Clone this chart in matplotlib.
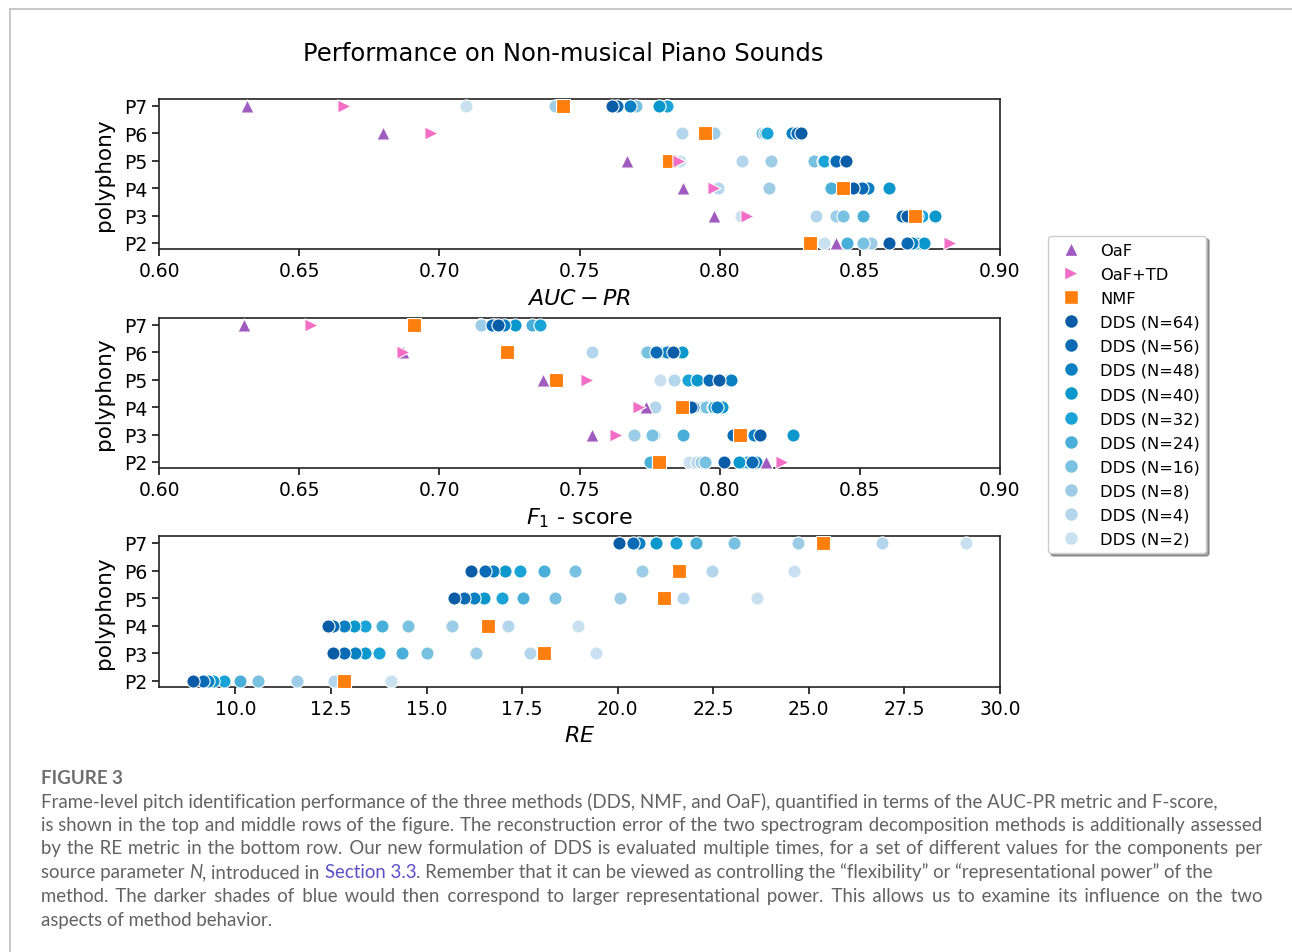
import matplotlib
matplotlib.use("Agg")
import matplotlib.pyplot as plt
from matplotlib.lines import Line2D

# ---- data -------------------------------------------------------------
polyphony = ["P2", "P3", "P4", "P5", "P6", "P7"]
dds_n = [64, 56, 48, 40, 32, 24, 16, 8, 4, 2]

dds_colors = ["#0a5ca6", "#0a6ab4", "#0a80c2", "#0a97cc", "#1aa3d6",
              "#4aafd8", "#78c1e0", "#9dcde6", "#b4d6ec", "#c8e0f0"]

# AUC-PR  (rows P2..P7)
auc_oaf = [0.8414, 0.7980, 0.7868, 0.7670, 0.6800, 0.6315]
auc_oaftd = [0.8822, 0.8096, 0.7980, 0.7856, 0.6970, 0.6661]
auc_nmf = [0.8321, 0.8697, 0.8439, 0.7820, 0.7949, 0.7442]
# each row: N=64 ... N=2
auc_dds = [
    [0.8605, 0.8667, 0.8685, 0.8730, 0.8700, 0.8456, 0.8510, 0.8540, 0.8510, 0.8372],
    [0.8669, 0.8652, 0.8705, 0.8768, 0.8720, 0.8510, 0.8440, 0.8414, 0.8344, 0.8076],
    [0.8474, 0.8508, 0.8528, 0.8605, 0.8524, 0.8396, 0.8392, 0.8175, 0.7995, 0.7990],
    [0.8450, 0.8415, 0.8448, 0.8413, 0.8372, 0.8370, 0.8335, 0.8184, 0.8080, 0.7860],
    [0.8290, 0.8275, 0.8257, 0.8262, 0.8168, 0.8160, 0.8150, 0.7980, 0.7866, 0.7866],
    [0.7615, 0.7633, 0.7680, 0.7785, 0.7813, 0.7812, 0.7700, 0.7413, 0.7420, 0.7095],
]

# F1-score
f1_oaf = [0.8165, 0.7545, 0.7738, 0.7371, 0.6872, 0.6304]
f1_oaftd = [0.8222, 0.7629, 0.7712, 0.7528, 0.6871, 0.6542]
f1_nmf = [0.7783, 0.8074, 0.7865, 0.7416, 0.7242, 0.6908]
f1_dds = [
    [0.8015, 0.8114, 0.8130, 0.8070, 0.8096, 0.7751, 0.7948, 0.7935, 0.7918, 0.7890],
    [0.8144, 0.8049, 0.8124, 0.8260, 0.8120, 0.7868, 0.7760, 0.7695, 0.7765, 0.7763],
    [0.7898, 0.7905, 0.7990, 0.8007, 0.7980, 0.7975, 0.7950, 0.7940, 0.7769, 0.7765],
    [0.7998, 0.7963, 0.8042, 0.7918, 0.7888, 0.7900, 0.8000, 0.8025, 0.7837, 0.7788],
    [0.7835, 0.7772, 0.7811, 0.7865, 0.7800, 0.7790, 0.7740, 0.7736, 0.7546, 0.7546],
    [0.7208, 0.7187, 0.7232, 0.7269, 0.7359, 0.7329, 0.7195, 0.7150, 0.7146, 0.7146],
]

# Reconstruction error (only NMF and DDS)
re_nmf = [12.83, 18.08, 16.61, 21.22, 21.60, 25.38]
re_dds = [
    [8.88, 9.14, 9.29, 9.42, 9.69, 10.11, 10.58, 11.62, 12.58, 14.08],
    [12.56, 12.85, 13.13, 13.39, 13.75, 14.36, 15.00, 16.30, 17.70, 19.44],
    [12.42, 12.55, 12.83, 13.11, 13.40, 13.83, 14.51, 15.67, 17.13, 18.96],
    [15.73, 15.99, 16.23, 16.50, 16.98, 17.52, 18.35, 20.05, 21.71, 23.64],
    [16.15, 16.52, 16.75, 17.06, 17.45, 18.08, 18.87, 20.64, 22.46, 24.62],
    [20.03, 20.40, 20.55, 20.99, 21.53, 22.04, 23.05, 24.71, 26.91, 29.11],
]

c_oaf = "#a05bc0"
c_oaftd = "#f26ec6"
c_nmf = "#ff7f0e"

W, H = 1292, 953
fig = plt.figure(figsize=(W / 100, H / 100), dpi=100)

def px_rect(l, t, r, b):
    return [l / W, 1 - b / H, (r - l) / W, (b - t) / H]

ax1 = fig.add_axes(px_rect(159, 100, 1000, 250))
ax2 = fig.add_axes(px_rect(159, 319, 1000, 469))
ax3 = fig.add_axes(px_rect(159, 537, 1000, 688))

ypos = list(range(len(polyphony)))
ms = 90

def draw_panel(ax, dds, nmf, oaf=None, oaftd=None):
    for k in range(len(dds_n) - 1, -1, -1):
        xs = [row[k] for row in dds]
        ax.scatter(xs, ypos, s=ms, marker="o", color=dds_colors[k],
                   edgecolors="white", linewidths=0.8, zorder=3)
    ax.scatter(nmf, ypos, s=ms, marker="s", color=c_nmf,
               edgecolors="white", linewidths=0.8, zorder=4)
    if oaf is not None:
        ax.scatter(oaf, ypos, s=ms, marker="^", color=c_oaf,
                   edgecolors="white", linewidths=0.8, zorder=4)
        ax.scatter(oaftd, ypos, s=ms, marker=">", color=c_oaftd,
                   edgecolors="white", linewidths=0.8, zorder=4)
    ax.set_yticks(ypos)
    ax.set_yticklabels(polyphony)
    ax.set_ylim(-0.22, 5.25)
    ax.set_ylabel("polyphony", fontsize=15.5)
    ax.tick_params(axis="both", labelsize=13.5, length=5, width=1.1, direction="out")
    for sp in ax.spines.values():
        sp.set_linewidth(1.2)
        sp.set_color("#222222")

draw_panel(ax1, auc_dds, auc_nmf, auc_oaf, auc_oaftd)
ax1.set_xlim(0.60, 0.90)
ax1.set_xticks([0.60, 0.65, 0.70, 0.75, 0.80, 0.85, 0.90])
ax1.set_xticklabels(["0.60", "0.65", "0.70", "0.75", "0.80", "0.85", "0.90"])
ax1.set_xlabel(r"$AUC-PR$", fontsize=16, labelpad=6)

draw_panel(ax2, f1_dds, f1_nmf, f1_oaf, f1_oaftd)
ax2.set_xlim(0.60, 0.90)
ax2.set_xticks([0.60, 0.65, 0.70, 0.75, 0.80, 0.85, 0.90])
ax2.set_xticklabels(["0.60", "0.65", "0.70", "0.75", "0.80", "0.85", "0.90"])
ax2.set_xlabel(r"$F_1$ - score", fontsize=16, labelpad=5)

draw_panel(ax3, re_dds, re_nmf)
ax3.set_xlim(8.0, 30.0)
ax3.set_xticks([10.0, 12.5, 15.0, 17.5, 20.0, 22.5, 25.0, 27.5, 30.0])
ax3.set_xticklabels(["10.0", "12.5", "15.0", "17.5", "20.0", "22.5", "25.0", "27.5", "30.0"])
ax3.set_xlabel(r"$RE$", fontsize=16, labelpad=5)

for ax in (ax1, ax2, ax3):
    ax.yaxis.set_label_coords(-0.054, 0.5)

fig.text(563 / W, 1 - 54 / H, "Performance on Non-musical Piano Sounds",
         fontsize=17.5, ha="center", va="center")

# legend
handles = [
    Line2D([], [], ls="", marker="^", ms=10, color=c_oaf, mec="white"),
    Line2D([], [], ls="", marker=">", ms=10, color=c_oaftd, mec="white"),
    Line2D([], [], ls="", marker="s", ms=10, color=c_nmf, mec="white"),
]
labels = ["OaF", "OaF+TD", "NMF"]
for n, c in zip(dds_n, dds_colors):
    handles.append(Line2D([], [], ls="", marker="o", ms=10, color=c, mec="white"))
    labels.append(f"DDS (N={n})")
fig.legend(handles, labels, loc="upper left", bbox_to_anchor=(1048 / W, 1 - 237 / H),
           borderaxespad=0, fontsize=11.7, labelspacing=0.56, shadow=True, frameon=True,
           edgecolor="#cccccc", framealpha=1)

# page border
fig.add_artist(Line2D([10 / W, 1], [1 - 10 / H, 1 - 10 / H], color="#c0c0c0", lw=1.2))
fig.add_artist(Line2D([10 / W, 10 / W], [0, 1 - 10 / H], color="#c0c0c0", lw=1.2))

# ---- caption ----------------------------------------------------------
cap_family = ["Lato", "DejaVu Sans"]
cap_color = "#626262"
link_color = "#5b4fc7"
HAIR = "\u200a"

fig.text(41 / W, 1 - 784 / H, "FIGURE 3", fontsize=13.5, fontweight="bold",
         color="#6e6e6e", family=cap_family, va="baseline", ha="left")

caption_lines = [
    ("Frame-level pitch identification performance of the three methods (DDS, NMF, and OaF), "
     "quantified in terms of the AUC-PR metric and F-score,", False),
    ("is shown in the top and middle rows of the figure. The reconstruction error of the two "
     "spectrogram decomposition methods is additionally assessed", True),
    ("by the RE metric in the bottom row. Our new formulation of DDS is evaluated multiple times, "
     "for a set of different values for the components per", True),
    None,  # styled line, built from runs below
    ("method. The darker shades of blue would then correspond to larger representational power. "
     "This allows us to examine its influence on the two", True),
    ("aspects of method behavior.", False),
]
line4_runs = [
    ("source parameter ", "normal"),
    ("N", "italic"),
    (", introduced in ", "normal"),
    ("Section 3.3", "link"),
    (". Remember that it can be viewed as controlling the \u201cflexibility\u201d or "
     "\u201crepresentational power\u201d of the", "normal"),
]
# baselines of the caption lines (pixels from top)
line_base = [808, 831, 854, 878, 902, 926]
x0, x1 = 41, 1262

renderer = fig.canvas.get_renderer()

def make_text(x, y, s, style, size):
    kw = dict(fontsize=size, family=cap_family, color=cap_color, va="baseline", ha="left")
    if style == "italic":
        kw["style"] = "italic"
    if style == "link":
        kw["color"] = link_color
    return fig.text(x / W, 1 - y / H, s, **kw)

def width_of(s, style, size):
    t = make_text(0, 0, s, style, size)
    w = t.get_window_extent(renderer).width
    t.remove()
    return w

# caption size chosen so line 1 spans its width in the reference
ref_w = width_of(caption_lines[0][0], "normal", 10)
cap_size = 10 * (1220 - x0) / ref_w
hair_w = width_of("a" + HAIR * 10 + "a", "normal", cap_size) - width_of("aa", "normal", cap_size)
hair_w /= 10

def justified(line):
    # pad the word gaps with hair spaces so the line fills the column
    words = line.split(" ")
    gaps = len(words) - 1
    extra = (x1 - x0) - width_of(line, "normal", cap_size)
    total = max(0, int(round(extra / hair_w))) if hair_w > 0 else 0
    out = words[0]
    for i in range(gaps):
        k = (total * (i + 1)) // gaps - (total * i) // gaps
        out += " " + HAIR * k + words[i + 1]
    return out

for entry, y in zip(caption_lines, line_base):
    if entry is None:
        x = x0
        for s, st in line4_runs:
            make_text(x, y, s, st, cap_size)
            x += width_of(s.replace(" ", "\u00a0"), st, cap_size)
        continue
    line, just = entry
    make_text(x0, y, justified(line) if just else line, "normal", cap_size)

fig.savefig("out.png", dpi=100)
